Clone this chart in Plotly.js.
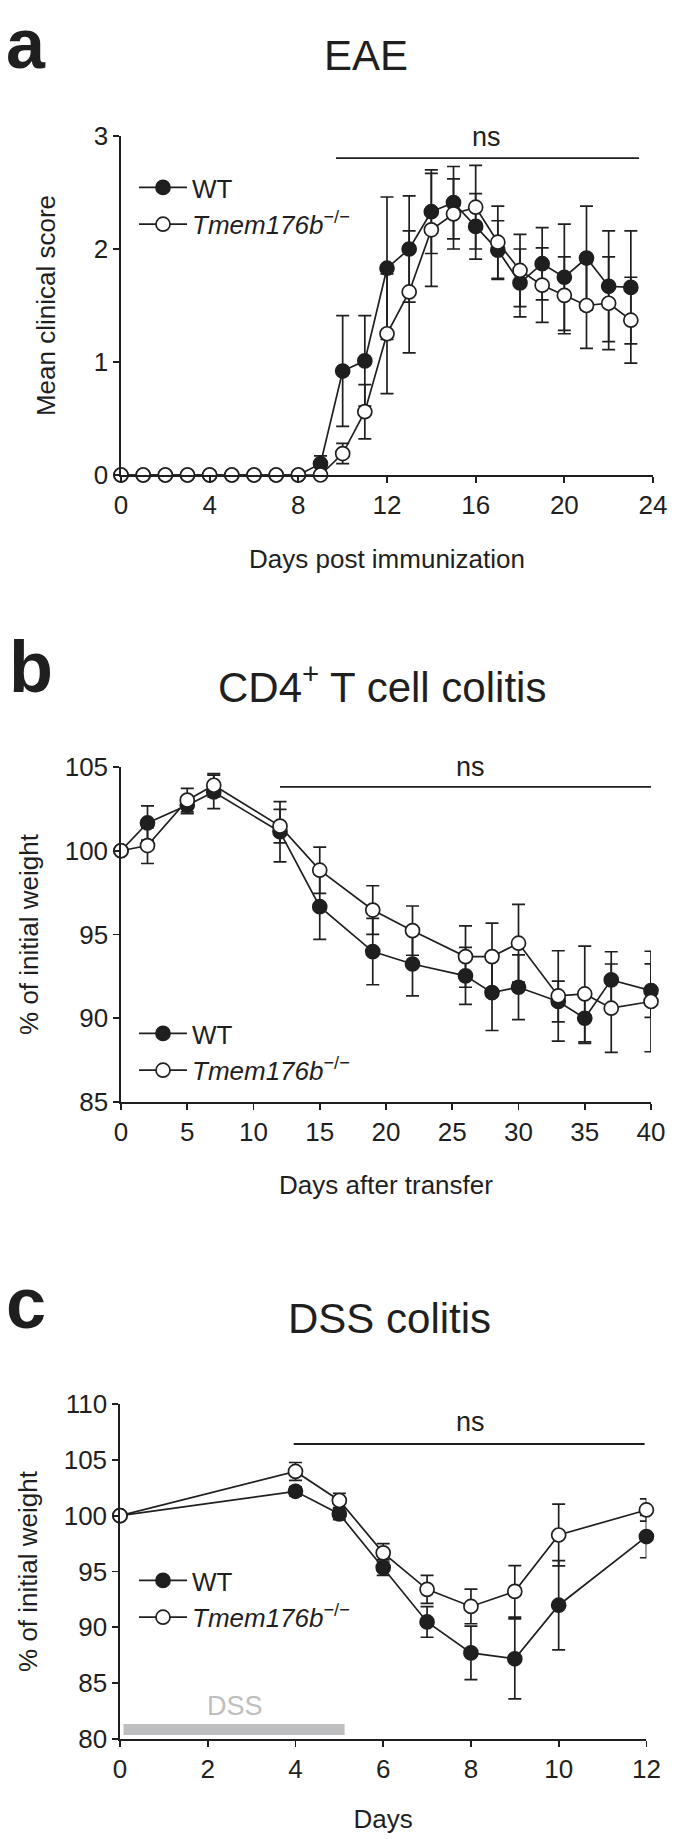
<!DOCTYPE html>
<html>
<head>
<meta charset="utf-8">
<script src="https://cdn.plot.ly/plotly-3.0.1.min.js"></script>
<style>html,body{margin:0;padding:0;background:#fff}</style>
</head>
<body>
<div id="chart" style="width:675px;height:1839px"></div>
<script>
// ---------- Panel a: EAE ----------
const eaeDays = [0,1,2,3,4,5,6,7,8,9,10,11,12,13,14,15,16,17,18,19,20,21,22,23];
const eaeWT = [0,0,0,0,0,0,0,0,0,0.10,0.92,1.01,1.83,2.00,2.33,2.41,2.20,1.99,1.70,1.87,1.75,1.92,1.67,1.66];
const eaeWTerr = [0,0,0,0,0,0,0,0,0,0.07,0.49,0.40,0.63,0.47,0.37,0.32,0.29,0.26,0.30,0.32,0.47,0.46,0.49,0.50];
const eaeKO = [0,0,0,0,0,0,0,0,0,0,0.19,0.56,1.25,1.62,2.17,2.31,2.37,2.06,1.81,1.68,1.59,1.50,1.52,1.37];
const eaeKOerr = [0,0,0,0,0,0,0,0,0,0,0.09,0.24,0.53,0.54,0.50,0.31,0.37,0.32,0.32,0.33,0.34,0.38,0.41,0.38];
const eaeXTicks = [0,4,8,12,16,20,24];
const eaeYTicks = [0,1,2,3];

// ---------- Panel b: CD4+ T cell colitis ----------
const cd4Days = [0,2,5,7,12,15,19,22,26,28,30,33,35,37,40];
const cd4WT = [100,101.66,102.72,103.51,101.13,96.66,93.98,93.24,92.53,91.53,91.85,91.00,90.00,92.29,91.65];
const cd4WTerr = [0,1.02,0.50,1.00,1.80,1.95,1.98,1.90,1.70,2.26,1.93,1.22,1.50,1.68,1.60];
const cd4KO = [100,100.31,103.02,103.91,101.47,98.84,96.46,95.23,93.68,93.68,94.48,91.33,91.45,90.60,91.00];
const cd4KOerr = [0,1.07,0.70,0.70,1.00,1.38,1.45,1.47,1.83,2.00,2.32,2.70,2.86,2.64,3.00];
const cd4XTicks = [0,5,10,15,20,25,30,35,40];
const cd4YTicks = [85,90,95,100,105];

// ---------- Panel c: DSS colitis ----------
const dssDays = [0,4,5,6,7,8,9,10,12];
const dssWT = [100,102.18,100.15,95.35,90.48,87.71,87.18,91.98,98.13];
const dssWTerr = [0,0.40,0.50,0.70,1.37,2.40,3.58,4.00,1.90];
const dssKO = [100,103.96,101.36,96.67,93.40,91.87,93.22,98.27,100.51];
const dssKOerr = [0,0.80,0.64,0.82,1.25,1.55,2.30,2.77,1.00];
const dssXTicks = [0,2,4,6,8,10,12];
const dssYTicks = [80,85,90,95,100,105,110];
const dssPeriod = [0.08, 5.12];

// significance bars: [x start, x end, y]
const nsA = [9.7, 23.37, 2.805];
const nsB = [12.0, 40.3, 103.81];
const nsC = [3.96, 11.96, 106.42];

const names = ['WT', '<i>Tmem176b</i><sup>\u2212/\u2212</sup>'];

// ---------- styling ----------
const W = 675, H = 1839;
const FONT = 'Liberation Sans, Arial, Helvetica, sans-serif';
const INK = '#1f1f1f';
const px = v => v / W;
const py = v => 1 - v / H;

function traceSet(x, y, err, which, xa, ya, leg) {
  const filled = which === 0;
  return {
    type: 'scatter', mode: 'lines+markers',
    x: x, y: y, xaxis: xa, yaxis: ya, legend: leg,
    name: names[which], cliponaxis: false,
    line: {color: INK, width: 1.7},
    marker: {size: 14, symbol: 'circle', color: filled ? INK : '#ffffff',
             line: {color: INK, width: 1.7}},
    error_y: {type: 'data', array: err, visible: true, color: INK,
              thickness: 1.7, width: 6.5}
  };
}

const data = [
  traceSet(eaeDays, eaeWT, eaeWTerr, 0, 'x', 'y', 'legend'),
  traceSet(eaeDays, eaeKO, eaeKOerr, 1, 'x', 'y', 'legend'),
  traceSet(cd4Days, cd4WT, cd4WTerr, 0, 'x2', 'y2', 'legend2'),
  traceSet(cd4Days, cd4KO, cd4KOerr, 1, 'x2', 'y2', 'legend2'),
  traceSet(dssDays, dssWT, dssWTerr, 0, 'x3', 'y3', 'legend3'),
  traceSet(dssDays, dssKO, dssKOerr, 1, 'x3', 'y3', 'legend3')
];

function axis(domain, range, ticks, anchor, title, standoff) {
  return {
    domain: domain, range: range, anchor: anchor,
    tickmode: 'array', tickvals: ticks,
    showline: true, linecolor: INK, linewidth: 1.7,
    ticks: 'outside', ticklen: 6, tickwidth: 1.7, tickcolor: INK,
    showgrid: false, zeroline: false, fixedrange: true,
    tickfont: {family: FONT, size: 26, color: INK},
    title: {text: title, font: {family: FONT, size: 26, color: INK}, standoff: standoff}
  };
}

function legendAt(midY) {
  return {
    x: px(134), y: py(midY), xanchor: 'left', yanchor: 'middle',
    bgcolor: 'rgba(0,0,0,0)', borderwidth: 0,
    font: {family: FONT, size: 26, color: INK},
    itemwidth: 48, tracegroupgap: 0
  };
}

function ann(text, x, y, size, opts) {
  return Object.assign({
    text: text, xref: 'paper', yref: 'paper', x: px(x), y: py(y),
    xanchor: 'center', yanchor: 'middle', showarrow: false,
    font: {family: FONT, size: size, color: INK}
  }, opts || {});
}

function nsShape(ns, xa, ya) {
  return {type: 'line', xref: xa, yref: ya, x0: ns[0], x1: ns[1], y0: ns[2], y1: ns[2],
          line: {color: INK, width: 1.8}};
}

const layout = {
  width: W, height: H, margin: {l: 0, r: 0, t: 0, b: 0},
  paper_bgcolor: '#ffffff', plot_bgcolor: 'rgba(0,0,0,0)',
  showlegend: true,
  xaxis:  axis([px(121), px(653)], [0, 24], eaeXTicks, 'y', 'Days post immunization', 31),
  yaxis:  axis([py(475), py(136)], [0, 3], eaeYTicks, 'x', 'Mean clinical score', 30),
  xaxis2: axis([px(121), px(651)], [0, 40], cd4XTicks, 'y2', 'Days after transfer', 30),
  yaxis2: axis([py(1102), py(767)], [85, 105], cd4YTicks, 'x2', '% of initial weight', 18),
  xaxis3: axis([px(120), px(646.4)], [0, 12], dssXTicks, 'y3', 'Days', 27),
  yaxis3: axis([py(1739), py(1404)], [80, 110], dssYTicks, 'x3', '% of initial weight', 18),
  legend: legendAt(206),
  legend2: legendAt(1052),
  legend3: legendAt(1599),
  shapes: [
    nsShape(nsA, 'x', 'y'),
    nsShape(nsB, 'x2', 'y2'),
    nsShape(nsC, 'x3', 'y3'),
    {type: 'rect', xref: 'x3', yref: 'y3', x0: dssPeriod[0], x1: dssPeriod[1], y0: 80.35, y1: 81.35,
     fillcolor: '#bdbec0', line: {width: 0}, layer: 'below'}
  ],
  annotations: [
    ann('<b>a</b>', 4, 44, 70, {xanchor: 'left'}),
    ann('<b>b</b>', 7, 667, 72, {xanchor: 'left'}),
    ann('<b>c</b>', 4, 1303, 72, {xanchor: 'left'}),
    ann('EAE', 366, 55, 42),
    ann('CD4<sup>+</sup> T cell colitis', 382, 684, 42),
    ann('DSS colitis', 390, 1318, 42),
    {text: 'ns', xref: 'x', yref: 'y', x: 16.5, y: 2.99, showarrow: false,
     xanchor: 'center', yanchor: 'middle', font: {family: FONT, size: 27, color: INK}},
    {text: 'ns', xref: 'x2', yref: 'y2', x: 26.4, y: 105.0, showarrow: false,
     xanchor: 'center', yanchor: 'middle', font: {family: FONT, size: 27, color: INK}},
    {text: 'ns', xref: 'x3', yref: 'y3', x: 7.98, y: 108.4, showarrow: false,
     xanchor: 'center', yanchor: 'middle', font: {family: FONT, size: 27, color: INK}},
    {text: 'DSS', xref: 'x3', yref: 'y3', x: 2.63, y: 82.96, showarrow: false,
     xanchor: 'center', yanchor: 'middle', font: {family: FONT, size: 27, color: '#bdbec0'}}
  ]
};

Plotly.newPlot('chart', data, layout, {displayModeBar: false, staticPlot: true});
</script>
</body>
</html>
